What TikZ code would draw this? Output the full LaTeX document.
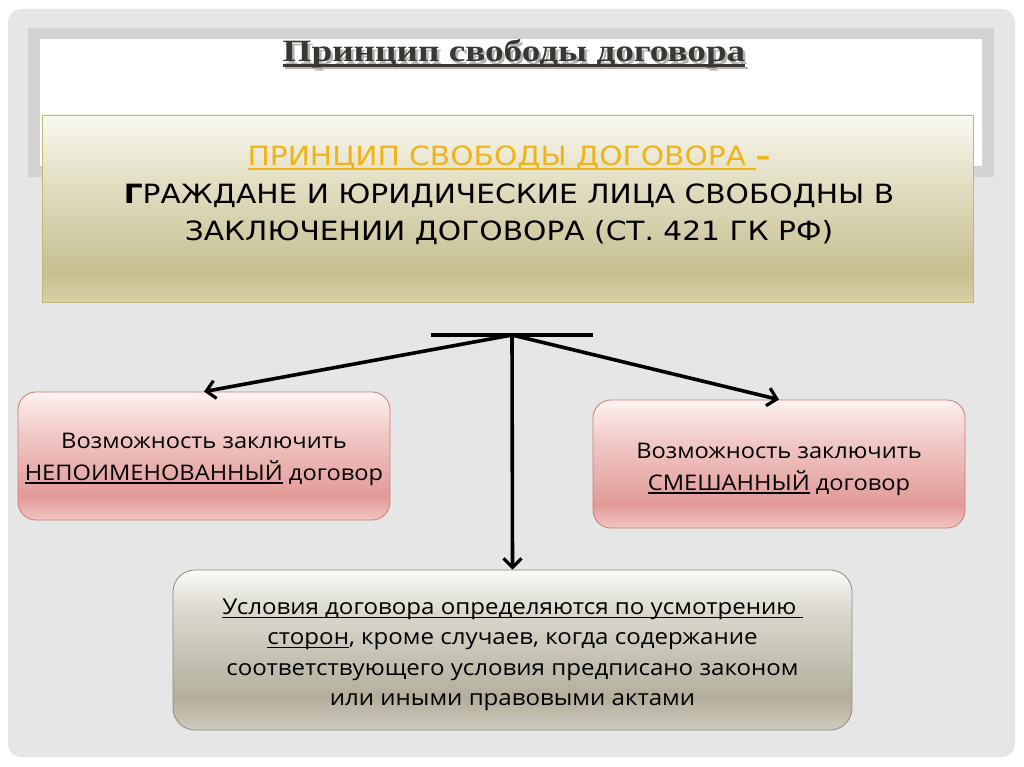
\documentclass[tikz,border=0pt]{standalone}
\usepackage{fontspec}
\setmainfont{Liberation Serif}
\newfontfamily\titlefont{Liberation Serif}[FakeStretch=1.2]
\newfontfamily\gothic{DejaVu Sans}[FakeStretch=1.12]
\newfontfamily\tah{Open Sans}[FakeStretch=1.1]
\usetikzlibrary{arrows.meta}
\newcommand\myul[1]{\leavevmode\setbox0\hbox{#1}\rlap{\rule[-0.16em]{\wd0}{0.065em}}\box0\relax}
\newcommand\shadowed[1]{\leavevmode\rlap{\hspace{2.5pt}\raisebox{-2.5pt}{\color{gray!60}\myul{#1}}}\myul{#1}}
\definecolor{bgray}{HTML}{E6E6E6}
\definecolor{fgray}{HTML}{D2D2D2}
\definecolor{olT}{HTML}{FAF9F0}
\definecolor{olD}{HTML}{C6C090}
\definecolor{olB}{HTML}{D6D1A6}
\definecolor{olLine}{HTML}{BFB878}
\definecolor{pkT}{HTML}{FDF3F2}
\definecolor{pkD}{HTML}{E29A97}
\definecolor{pkB}{HTML}{F1C6C4}
\definecolor{pkLine}{HTML}{C97B78}
\definecolor{grT}{HTML}{FAFAF7}
\definecolor{grD}{HTML}{B3AE9C}
\definecolor{grB}{HTML}{CFCBBE}
\definecolor{grLine}{HTML}{8E8A7C}
\definecolor{gold}{HTML}{F0B419}
\definecolor{titlec}{HTML}{3A3631}
\pgfdeclareverticalshading{oliveshade}{100bp}{color(0bp)=(olB); color(25bp)=(olB); color(33bp)=(olD); color(60bp)=(olT!60!olD); color(75bp)=(olT); color(100bp)=(olT)}
\pgfdeclareverticalshading{pinkshade}{100bp}{color(0bp)=(pkB); color(25bp)=(pkB); color(34bp)=(pkD); color(60bp)=(pkT!55!pkD); color(75bp)=(pkT); color(100bp)=(pkT)}
\pgfdeclareverticalshading{grayshade}{100bp}{color(0bp)=(grB); color(25bp)=(grB); color(35bp)=(grD); color(62bp)=(grT!55!grD); color(75bp)=(grT); color(100bp)=(grT)}
\tikzset{
  pinkbox/.style={draw=pkLine, line width=0.8pt, rounded corners=18pt, shading=pinkshade,
    minimum width=372pt, minimum height=128pt, inner sep=0pt},
  graybox/.style={draw=grLine, line width=0.8pt, rounded corners=22pt, shading=grayshade,
    minimum width=679pt, minimum height=160pt, inner sep=0pt},
  olivebox/.style={draw=olLine, line width=0.8pt, shading=oliveshade,
    minimum width=931pt, minimum height=187pt, inner sep=0pt},
  sidetext/.style={align=center, inner sep=0pt, font=\tah\fontsize{21.5}{32}\selectfont},
  bottext/.style={align=center, inner sep=0pt, font=\tah\fontsize{21.9}{30.5}\selectfont},
  conn/.style={line width=3.6pt, -{Straight Barb[length=9pt,width=18pt,line width=3.2pt]}},
}
\begin{document}
\begin{tikzpicture}[x=1pt,y=-1pt]
\useasboundingbox (0,0) rectangle (1024,767);
\fill[white] (0,0) rectangle (1024,767);
\fill[bgray, rounded corners=13pt] (8,9) rectangle (1015,757);
\fill[fgray] (28,28) rectangle (994,177);
\fill[white] (40,39) rectangle (982,166);
% title
\node[text=titlec, inner sep=0pt, font=\titlefont\fontsize{31}{36}\selectfont\bfseries] (title) at (514,55) {\shadowed{Принцип свободы договора}};
% main box
\node[olivebox] (main) at (507.5,208.5) {};
\node[align=center, inner sep=0pt, font=\gothic\fontsize{26.5}{37.5}\selectfont] (maintext) at (509,195.5) {{\color{gold}\myul{ПРИНЦИП СВОБОДЫ ДОГОВОРА }\textbf{–}}\\\textbf{Г}РАЖДАНЕ И ЮРИДИЧЕСКИЕ ЛИЦА СВОБОДНЫ В\\ЗАКЛЮЧЕНИИ ДОГОВОРА (СТ. 421 ГК РФ)};
% boxes
\node[pinkbox] (L) at (204,456) {};
\node[sidetext] (Ltext) at (204,459) {Возможность заключить\\\myul{НЕПОИМЕНОВАННЫЙ} договор};
\node[pinkbox] (R) at (779,464) {};
\node[sidetext] (Rtext) at (779,469) {Возможность заключить\\\myul{СМЕШАННЫЙ} договор};
\node[graybox] (B) at (512.5,650) {};
\node[bottext] (Btext) at (512.5,655) {\myul{Условия договора определяются по усмотрению }\\\myul{сторон}, кроме случаев, когда содержание\\соответствующего условия предписано законом\\или иными правовыми актами};
% bar and connectors
\coordinate (bl) at (431,335);
\coordinate (br) at (593,335);
\coordinate (apex) at (512,335);
\draw[line width=4.5pt] (bl) -- (br);
\draw[conn] (apex) -- (L.north);
\draw[conn] (apex) -- (R.north);
\draw[conn] (apex) -- (B.north);
\end{tikzpicture}
\end{document}
